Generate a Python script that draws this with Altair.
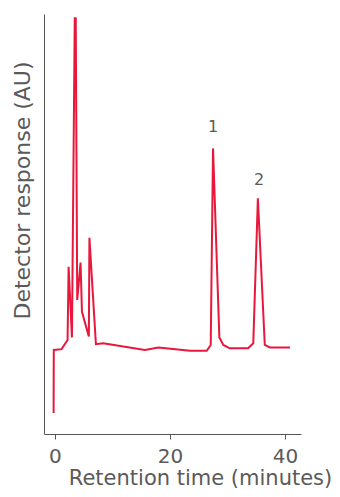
import altair as alt
import pandas as pd

times = [-0.23, -0.2, 1.16, 2.2, 2.38, 2.96, 3.45, 3.62, 3.88, 4.46, 4.7, 5.9, 6.0, 7.13, 8.4,
         15.65, 18.0, 23.5, 26.4, 27.1, 27.5, 28.6, 29.3, 30.4, 33.6, 34.5, 35.3, 36.5, 37.4, 40.9]
response = [5.0, 20.0, 20.2, 22.4, 39.8, 23.0, 99.0, 99.0, 31.9, 40.8, 29.1, 23.2, 46.7, 21.4, 21.6,
            20.0, 20.6, 19.8, 19.8, 21.2, 68.0, 23.0, 21.2, 20.4, 20.4, 21.6, 56.1, 21.2, 20.6, 20.6]

peak_labels = ["1", "2"]
peak_t = [27.5, 35.5]
peak_y = [73.0, 60.5]

df = pd.DataFrame({"t": times, "r": response, "order": list(range(len(times)))})
lab = pd.DataFrame({"t": peak_t, "r": peak_y, "label": peak_labels})

font = "DejaVu Sans"
gray = "#5a5a5a"
xscale = alt.Scale(domain=[-1.9, 42.8], nice=False, zero=False)
yscale = alt.Scale(domain=[0, 100], nice=False, zero=False)

line = alt.Chart(df).mark_line(color="#E8173C", strokeWidth=2).encode(
    x=alt.X("t:Q", scale=xscale,
            axis=alt.Axis(title="Retention time (minutes)", values=[0, 20, 40], grid=False,
                          domainColor="#555", tickColor="#555", tickSize=5,
                          labelFont=font, labelFontSize=20, labelColor=gray, labelPadding=7,
                          titleFont=font, titleFontSize=21, titleFontWeight="normal",
                          titleColor=gray, titleX=156, titleY=50,
                          titleBaseline="alphabetic")),
    y=alt.Y("r:Q", scale=yscale,
            axis=alt.Axis(title="Detector response (AU)", grid=False, ticks=False, labels=False,
                          domainColor="#555", titleFont=font, titleFontSize=22,
                          titleFontWeight="normal", titleColor=gray, titleX=-15, titleY=176,
                          titleBaseline="alphabetic")),
    order="order:Q",
)

text = alt.Chart(lab).mark_text(font=font, fontSize=16, color=gray, baseline="middle").encode(
    x=alt.X("t:Q", scale=xscale), y=alt.Y("r:Q", scale=yscale), text="label:N"
)

chart = (line + text).properties(
    width=257, height=420,
    autosize=alt.AutoSizeParams(type="none"),
    padding={"left": 36, "top": 6, "right": 30, "bottom": 55},
).configure_view(stroke=None)

chart.save("out.html", embed_options={"renderer": "svg", "actions": False})
